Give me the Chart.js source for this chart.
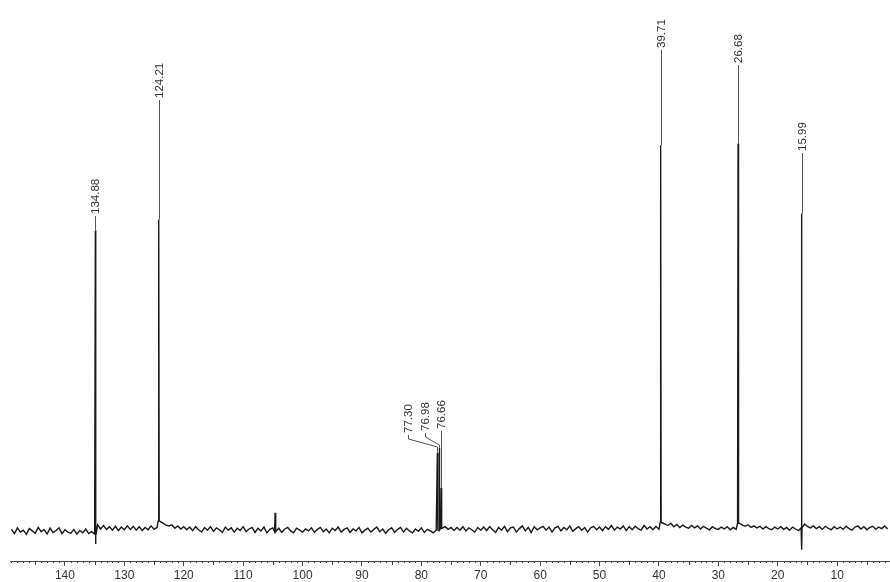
<!DOCTYPE html>
<html>
<head>
<meta charset="utf-8">
<script src="https://cdn.jsdelivr.net/npm/chart.js@4.4.0/dist/chart.umd.min.js"></script>
<style>
body { margin: 0; background: #fff; }
#wrap { width: 890px; height: 582px; position: relative; }
</style>
</head>
<body>
<div id="wrap"><canvas id="spectrum"></canvas></div>
<script>
/* ================= DATA ================= */
// ppm axis range and labelled ticks
const axisMinPpm = 1.1;
const axisMaxPpm = 149.25;
const tickValues = [10, 20, 30, 40, 50, 60, 70, 80, 90, 100, 110, 120, 130, 140];

// baseline noise, one value every 0.5 ppm from 149.0 down to 1.5
const noiseStartPpm = 149.0;
const noiseStepPpm = 0.5;
const noise = [
    0.4, -0.7, 0.8, -0.3, 0.2, -0.9, 0.6, 0.0, -0.6, 0.9, -0.2, 0.3, -0.8, 0.7, -0.4, 0.1, 0.8, -0.7, 0.3, -0.3,
    -0.6, 0.4, -0.8, 0.1, -0.5, 0.5, -0.7, -0.2, -0.8, 1.6, 0.5, 1.4, 0.4, 1.1, 0.2, 1.2, 0.1, 1.0, 0.3, 1.3,
    0.4, 1.2, 0.2, 1.1, 0.1, 0.9, 0.3, 1.3, 0.4, 0.9, 2.6, 2.0, 1.5, 1.3, 1.6, 0.7, 1.3, 0.5, 1.1, 0.3,
    1.0, 0.1, 1.1, 0.3, -0.3, 0.9, 0.2, 1.1, -0.1, 0.8, 0.3, -0.4, 1.0, 0.2, 0.8, -0.3, 0.7, 0.1, 1.1, -0.2,
    0.5, 0.9, -0.4, 0.7, 0.0, 1.0, -0.5, 0.4, 0.8, -0.2, 0.7, -0.4, 0.5, 0.9, 0.0, -0.5, 0.7, 0.2, -0.3, 0.5,
    0.0, 0.8, -0.4, 0.4, 0.9, -0.2, 0.5, -0.5, 0.7, 0.1, 1.0, -0.3, 0.4, 0.8, -0.4, 0.5, 0.0, 0.9, -0.5, 0.2,
    0.7, -0.3, 0.4, 1.0, -0.2, 0.5, -0.6, 0.3, 0.8, -0.4, 0.4, 0.9, -0.3, 0.7, 0.0, -0.5, 0.5, -0.1, 0.8, -0.4,
    0.4, 0.0, -0.5, 0.2, 0.2, 0.7, 1.1, 0.4, 0.9, 0.1, 0.9, 0.2, 1.1, 0.0, 0.8, 0.3, -0.3, 0.9, 0.2, 1.0,
    0.1, 1.1, 0.3, -0.4, 0.9, 0.2, 1.2, -0.2, 0.8, 1.0, -0.3, 0.6, 1.3, 0.0, 0.9, -0.4, 1.1, 0.3, 0.8, 1.2,
    0.2, 1.0, -0.3, 0.8, 1.2, 0.0, 0.9, 0.3, 1.3, -0.1, 0.6, 1.1, 0.2, 0.9, -0.3, 0.8, 1.2, 0.3, 1.0, 0.1,
    1.1, 0.4, 1.4, 0.2, 1.0, 0.5, 1.3, 0.1, 1.1, 0.3, 1.2, 0.6, 0.2, 1.4, 0.5, 1.1, 0.3, 1.2, 0.4, 2.2,
    1.8, 1.4, 2.0, 1.1, 1.7, 0.9, 1.5, 1.0, 0.7, 1.4, 0.8, 1.3, 0.5, 1.2, 0.7, 0.3, 1.1, 0.6, 0.4, 1.0,
    0.5, 1.1, 0.3, 0.9, 0.4, 2.0, 1.6, 1.2, 1.6, 0.9, 1.3, 0.8, 1.2, 0.5, 1.1, 0.6, 0.3, 1.0, 0.5, 1.1,
    0.4, 0.9, 0.2, 1.0, 0.5, 0.1, 0.8, 1.8, 1.2, 0.8, 1.3, 0.6, 1.1, 0.4, 1.2, 0.7, 0.3, 1.1, 0.5, 1.0,
    0.4, 1.2, 0.6, 0.2, 1.0, 1.3, 0.5, 1.1, 0.3, 0.9, 1.2, 0.4, 1.0, 0.6, 1.3, 0.5
];

// signals (ppm, height)
const peakPpm = [134.88, 124.21, 104.62, 77.30, 76.98, 76.66, 39.71, 26.68, 15.99];
const peakHeight = [77.9, 80.8, 4.7, 20.3, 21.6, 11.2, 100.0, 100.5, 82.3];

// negative dips next to some signals
const dipPpm = [134.80, 15.92];
const dipDepth = [-3.4, -4.9];

// peak picking labels
const labelPpm = [134.88, 124.21, 77.30, 76.98, 76.66, 39.71, 26.68, 15.99];

/* ================= LABEL LAYOUT ================= */
const labelTextBottom = [214, 98, 433, 431, 429, 48, 63, 151];
const labelShiftX = [0, 0, -29, -14, 0, 0, 0, 0];

/* ================= BUILD SERIES ================= */
function baseAt(ppm) {
    const i = Math.round((noiseStartPpm - ppm) / noiseStepPpm);
    return noise[Math.max(0, Math.min(noise.length - 1, i))];
}

const points = noise.map((v, i) => ({ x: noiseStartPpm - i * noiseStepPpm, y: v }));
peakPpm.forEach((p, i) => {
    const b = baseAt(p);
    points.push({ x: p + 0.08, y: b }, { x: p, y: peakHeight[i] }, { x: p - 0.08, y: b });
});
dipPpm.forEach((p, i) => {
    const b = baseAt(p);
    points.push({ x: p + 0.05, y: b }, { x: p, y: dipDepth[i] }, { x: p - 0.05, y: b });
});
points.sort((a, b) => b.x - a.x);

/* ================= PLUGINS ================= */
const minorTicks = {
    id: "minorTicks",
    afterDraw(chart) {
        const xs = chart.scales.x;
        const ctx = chart.ctx;
        ctx.save();
        ctx.strokeStyle = "#444";
        ctx.lineWidth = 1;
        ctx.beginPath();
        for (let v = Math.ceil(axisMinPpm); v <= Math.floor(axisMaxPpm); v++) {
            if (v % 10 === 0) continue;
            const px = Math.round(xs.getPixelForValue(v)) + 0.5;
            const len = v % 5 === 0 ? 4 : 2;
            ctx.moveTo(px, xs.top);
            ctx.lineTo(px, xs.top + len);
        }
        ctx.stroke();
        ctx.restore();
    }
};

const peakLabels = {
    id: "peakLabels",
    afterDraw(chart) {
        const xs = chart.scales.x;
        const ys = chart.scales.y;
        const ctx = chart.ctx;
        ctx.save();
        ctx.font = "11.5px Arial, 'Liberation Sans', sans-serif";
        ctx.fillStyle = "#333";
        ctx.strokeStyle = "#555";
        ctx.lineWidth = 1;
        labelPpm.forEach((p, i) => {
            const k = peakPpm.indexOf(p);
            const px = Math.round(xs.getPixelForValue(p)) + 0.5;
            const top = ys.getPixelForValue(peakHeight[k]);
            const tx = px + labelShiftX[i];
            const tb = labelTextBottom[i];
            ctx.beginPath();
            if (labelShiftX[i] === 0) {
                ctx.moveTo(px, top);
                ctx.lineTo(px, tb + 2);
            } else {
                ctx.moveTo(px, top);
                ctx.lineTo(px, tb + 14);
                ctx.lineTo(tx, tb + 6);
                ctx.lineTo(tx, tb + 2);
            }
            ctx.stroke();
            ctx.save();
            ctx.translate(tx + 0.5, tb);
            ctx.rotate(-Math.PI / 2);
            ctx.textAlign = "left";
            ctx.textBaseline = "middle";
            ctx.fillText(p.toFixed(2), 0, 0);
            ctx.restore();
        });
        ctx.restore();
    }
};

/* ================= CHART ================= */
const ctx = document.getElementById("spectrum").getContext("2d");
new Chart(ctx, {
    type: "line",
    data: {
        datasets: [{
            data: points,
            borderColor: "#1a1a1a",
            borderWidth: 1.4,
            pointRadius: 0,
            tension: 0,
            fill: false
        }]
    },
    options: {
        responsive: true,
        maintainAspectRatio: false,
        animation: false,
        layout: { padding: { left: 10, right: 0, top: 0, bottom: -4 } },
        plugins: { legend: { display: false }, tooltip: { enabled: false } },
        scales: {
            x: {
                type: "linear",
                reverse: true,
                min: axisMinPpm,
                max: axisMaxPpm,
                afterBuildTicks: (scale) => { scale.ticks = tickValues.map(v => ({ value: v })); },
                grid: { display: true, drawOnChartArea: false, drawTicks: true, tickLength: 5, color: "#444" },
                border: { display: true, color: "#444", width: 1 },
                ticks: {
                    autoSkip: false,
                    maxRotation: 0,
                    padding: 4,
                    color: "#333",
                    font: { family: "Arial, 'Liberation Sans', sans-serif", size: 12, lineHeight: 1 }
                }
            },
            y: {
                display: false,
                min: -7.8,
                max: 137.7
            }
        }
    },
    plugins: [minorTicks, peakLabels]
});
</script>
</body>
</html>
